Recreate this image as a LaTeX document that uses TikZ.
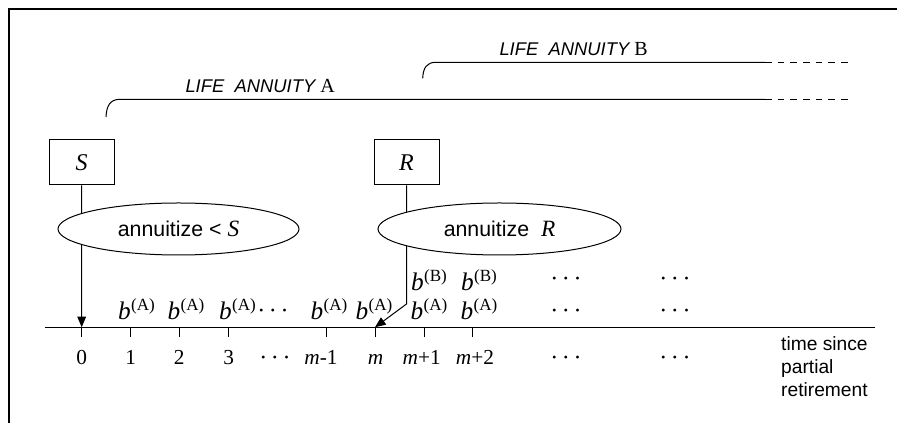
\documentclass[tikz,border=0pt]{standalone}
\usepackage{fontspec}
\setmainfont{Liberation Serif}
\newfontfamily\sansf{Liberation Sans}
\usetikzlibrary{arrows.meta,shapes.geometric}
\newcommand{\bsup}[1]{{\fontsize{19}{21}\selectfont\textit{b}}\kern0.2pt\raisebox{7pt}{\fontsize{12.8}{14}\selectfont(#1)}}
\newcommand{\tdots}{{\fontsize{18}{20}\selectfont·\hspace{2.8pt}·\hspace{2.8pt}·}}
\begin{document}
\begin{tikzpicture}[x=0.75pt,y=-0.75pt,line width=0.75pt,
  serif/.style={font=\fontsize{16}{18}\selectfont,inner sep=0pt},
  valbox/.style={draw,minimum width=48.75pt,minimum height=33.75pt,inner sep=0pt,font=\fontsize{18}{20}\selectfont},
  ell/.style={ellipse,draw,fill=white,minimum height=39pt,inner sep=0pt},
  arr/.style={-{Triangle[length=8pt,width=6.5pt]}},
  annlabel/.style={anchor=base west,inner sep=0pt,font=\sansf\itshape\fontsize{13.8}{15}\selectfont},
  dashseg/.style={dash pattern=on 5pt off 4.5pt}]
\useasboundingbox (0,0) rectangle (897,423);
% frame
\coordinate (f1) at (9,423);
\coordinate (f2) at (9,9);
\coordinate (f3) at (897,9);
\draw[line width=1pt] (f1) -- (f2) -- (f3);
% life annuity A
\coordinate (hA) at (106,117);
\coordinate (hA2) at (120,99.3);
\coordinate (sA) at (765,99.3);
\coordinate (eA) at (850,99.3);
\draw (hA) .. controls (106.5,106) and (110,99.3) .. (hA2) -- (sA);
\draw[dashseg] (sA) -- (eA);
\node[annlabel] (LA) at (185,92.7) {LIFE\ \ ANNUITY\ {\rmfamily\upshape\fontsize{15}{16}\selectfont A}};
% life annuity B
\coordinate (hB) at (422.7,78.3);
\coordinate (hB2) at (436,62.3);
\coordinate (sB) at (765,62.3);
\coordinate (eB) at (850,62.3);
\draw (hB) .. controls (423.2,68) and (426.5,62.3) .. (hB2) -- (sB);
\draw[dashseg] (sB) -- (eB);
\node[annlabel] (LB) at (499,55.7) {LIFE\ \ ANNUITY\ {\rmfamily\upshape\fontsize{15}{16}\selectfont B}};
% axis
\coordinate (axL) at (45,327.3);
\coordinate (axR) at (875,327.3);
\draw (axL) -- (axR);
\foreach \n/\x in {0/81.7,1/130.7,2/179.3,3/228.7,m1/326,m/375,mp1/424,mp2/472.7}{
  \coordinate (t\n) at (\x,327.3);
  \draw (t\n) -- ++(0,10);
}
% boxes
\node[valbox] (S) at (81.5,162.5) {\textit{S}};
\node[valbox] (R) at (406.5,162.5) {\textit{R}};
% connectors
\draw[arr] (S.south) -- (t0);
\coordinate (Rk) at (406.5,304);
\draw[arr] (R.south) -- (Rk) -- (tm);
% ellipses
\node[ell,minimum width=180.75pt] (E1) at (178.5,229) {{\sansf\fontsize{16}{18}\selectfont annuitize <\ }{\fontsize{17.5}{18}\selectfont\textit{S}}};
\node[ell,minimum width=182.25pt] (E2) at (499.5,229) {{\sansf\fontsize{16}{18}\selectfont annuitize\ \ }{\fontsize{17.5}{18}\selectfont\textit{R}}};
% payments
\foreach \x [count=\i] in {136.5,186,237.5,329,374,429,479}{
  \node[serif,anchor=base] (bA\i) at (\x,320) {\bsup{A}};
}
\node[serif,anchor=base] (bB1) at (429,291) {\bsup{B}};
\node[serif,anchor=base] (bB2) at (479,291) {\bsup{B}};
\node[serif,anchor=base] (dA0) at (273,319) {\tdots};
\node[serif,anchor=base] (dA1) at (566,319) {\tdots};
\node[serif,anchor=base] (dA2) at (675,319) {\tdots};
\node[serif,anchor=base] (dB1) at (566,287) {\tdots};
\node[serif,anchor=base] (dB2) at (675,287) {\tdots};
% tick labels
\foreach \x/\t [count=\i] in {81.7/0,130.7/1,179.3/2,228.7/3,321/\textit{m}-1,375.6/\textit{m},421.7/\textit{m}+1,475/\textit{m}+2}{
  \node[serif,anchor=base] (L\i) at (\x,365) {\t};
}
\node[serif,anchor=base] (Ld1) at (275,366) {\tdots};
\node[serif,anchor=base] (Ld2) at (566,366) {\tdots};
\node[serif,anchor=base] (Ld3) at (675,366) {\tdots};
\node[anchor=base west,align=left,inner sep=0pt,font=\sansf\fontsize{14.4}{17.25}\selectfont] (T) at (780.7,397) {time since\\partial\\retirement};
\end{tikzpicture}
\end{document}
